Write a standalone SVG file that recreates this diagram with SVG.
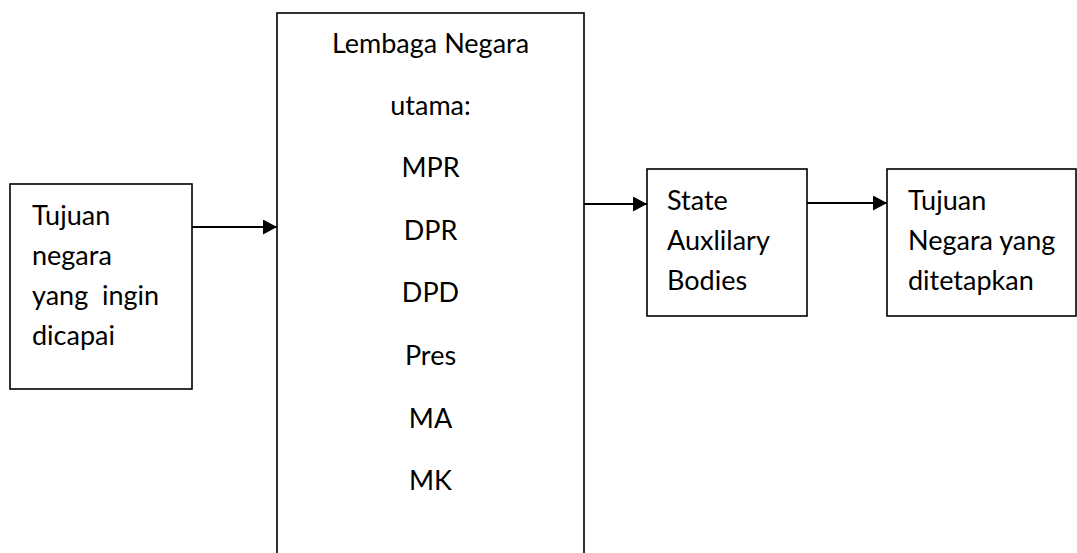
<svg xmlns="http://www.w3.org/2000/svg" width="1077" height="553" viewBox="0 0 1077 553">
  <style>
    .box { fill: #ffffff; stroke: #000000; stroke-width: 1.6; }
    .lbl { font-family: Lato, "Open Sans", "Liberation Sans", sans-serif; font-size: 27px; fill: #000000; }
    .mid { text-anchor: middle; }
    .wire { fill: none; stroke: #000000; stroke-width: 2; }
  </style>
  <defs>
    <marker id="head" markerUnits="userSpaceOnUse" markerWidth="14" markerHeight="15" refX="14" refY="7.5" orient="auto">
      <path d="M0,0 L14,7.5 L0,15 Z" fill="#000000"/>
    </marker>
  </defs>

  <rect width="1077" height="553" fill="#ffffff"/>

  <!-- goal to achieve -->
  <g id="tujuan-awal">
    <rect class="box" x="10" y="184" width="182" height="205"/>
    <text class="lbl" x="32" y="225">Tujuan</text>
    <text class="lbl" x="32" y="265">negara</text>
    <text class="lbl" x="32" y="305" xml:space="preserve">yang  ingin</text>
    <text class="lbl" x="32" y="345">dicapai</text>
  </g>

  <!-- main state institutions -->
  <g id="lembaga-utama">
    <rect class="box" x="277" y="13" width="307" height="560"/>
    <text class="lbl mid" x="430.5" y="53">Lembaga Negara</text>
    <text class="lbl mid" x="430.5" y="115">utama:</text>
    <text class="lbl mid" x="430.5" y="177">MPR</text>
    <text class="lbl mid" x="430.5" y="240">DPR</text>
    <text class="lbl mid" x="430.5" y="302">DPD</text>
    <text class="lbl mid" x="430.5" y="365">Pres</text>
    <text class="lbl mid" x="430.5" y="428">MA</text>
    <text class="lbl mid" x="430.5" y="490">MK</text>
  </g>

  <!-- auxiliary bodies -->
  <g id="auxiliary">
    <rect class="box" x="647" y="169" width="160" height="147"/>
    <text class="lbl" x="667" y="210">State</text>
    <text class="lbl" x="667" y="250">Auxlilary</text>
    <text class="lbl" x="667" y="290">Bodies</text>
  </g>

  <!-- goal that is set -->
  <g id="tujuan-akhir">
    <rect class="box" x="887" y="169" width="189" height="147"/>
    <text class="lbl" x="908" y="210">Tujuan</text>
    <text class="lbl" x="908" y="250">Negara yang</text>
    <text class="lbl" x="908" y="290">ditetapkan</text>
  </g>

  <g id="connectors">
    <line class="wire" x1="192" y1="227" x2="277" y2="227" marker-end="url(#head)"/>
    <line class="wire" x1="584" y1="204" x2="647" y2="204" marker-end="url(#head)"/>
    <line class="wire" x1="807" y1="203" x2="887" y2="203" marker-end="url(#head)"/>
  </g>
</svg>
